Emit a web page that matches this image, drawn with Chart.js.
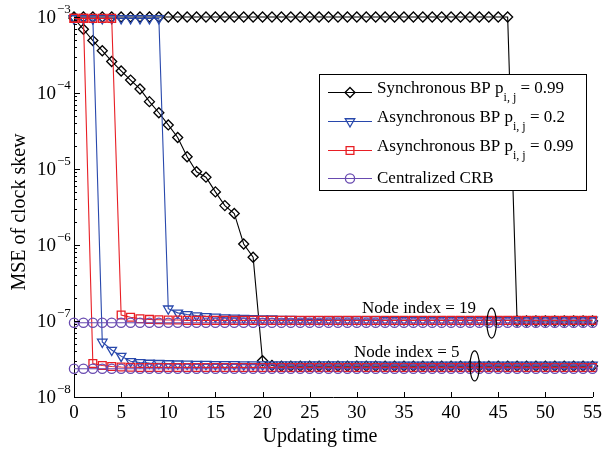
<!DOCTYPE html>
<html>
<head>
<meta charset="utf-8">
<script src="https://cdn.jsdelivr.net/npm/chart.js@4.4.1/dist/chart.umd.min.js"></script>
<style>
    html, body { margin: 0; padding: 0; background: #fff; }
    #chart { display: block; }
</style>
</head>
<body>
<canvas id="chart" width="607" height="449"></canvas>
<script>
const updatingTime = [
    0, 1, 2, 3, 4, 5, 6, 7, 8, 9,
    10, 11, 12, 13, 14, 15, 16, 17, 18, 19,
    20, 21, 22, 23, 24, 25, 26, 27, 28, 29,
    30, 31, 32, 33, 34, 35, 36, 37, 38, 39,
    40, 41, 42, 43, 44, 45, 46, 47, 48, 49,
    50, 51, 52, 53, 54, 55
];

// Synchronous BP p = 0.99
const syncNode19 = [
    1e-3, 1e-3, 1e-3, 1e-3, 1e-3, 1e-3, 1e-3, 1e-3, 1e-3, 1e-3,
    1e-3, 1e-3, 1e-3, 1e-3, 1e-3, 1e-3, 1e-3, 1e-3, 1e-3, 1e-3,
    1e-3, 1e-3, 1e-3, 1e-3, 1e-3, 1e-3, 1e-3, 1e-3, 1e-3, 1e-3,
    1e-3, 1e-3, 1e-3, 1e-3, 1e-3, 1e-3, 1e-3, 1e-3, 1e-3, 1e-3,
    1e-3, 1e-3, 1e-3, 1e-3, 1e-3, 1e-3, 1e-3, 1.0e-7, 1.0e-7, 1.0e-7,
    1.0e-7, 1.0e-7, 1.0e-7, 1.0e-7, 1.0e-7, 1.0e-7
];
const syncNode5 = [
    9.6e-4, 6.9e-4, 4.9e-4, 3.6e-4, 2.6e-4, 1.95e-4, 1.48e-4, 1.13e-4, 7.7e-5, 5.5e-5,
    3.8e-5, 2.6e-5, 1.45e-5, 9.2e-6, 7.8e-6, 5.0e-6, 3.3e-6, 2.6e-6, 1.03e-6, 6.9e-7,
    3.0e-8, 2.6e-8, 2.55e-8, 2.55e-8, 2.55e-8, 2.55e-8, 2.55e-8, 2.55e-8, 2.55e-8, 2.55e-8,
    2.55e-8, 2.55e-8, 2.55e-8, 2.55e-8, 2.55e-8, 2.55e-8, 2.55e-8, 2.55e-8, 2.55e-8, 2.55e-8,
    2.55e-8, 2.55e-8, 2.55e-8, 2.55e-8, 2.55e-8, 2.55e-8, 2.55e-8, 2.55e-8, 2.55e-8, 2.55e-8,
    2.55e-8, 2.55e-8, 2.55e-8, 2.55e-8, 2.55e-8, 2.55e-8
];

// Asynchronous BP p = 0.2
const asyncLowNode19 = [
    9.6e-4, 9.6e-4, 9.6e-4, 9.6e-4, 9.6e-4, 9.6e-4, 9.6e-4, 9.6e-4, 9.6e-4, 9.6e-4,
    1.45e-7, 1.28e-7, 1.22e-7, 1.18e-7, 1.15e-7, 1.13e-7, 1.11e-7, 1.10e-7, 1.09e-7, 1.08e-7,
    1.07e-7, 1.07e-7, 1.06e-7, 1.06e-7, 1.05e-7, 1.05e-7, 1.05e-7, 1.04e-7, 1.04e-7, 1.04e-7,
    1.04e-7, 1.04e-7, 1.04e-7, 1.03e-7, 1.03e-7, 1.03e-7, 1.03e-7, 1.03e-7, 1.03e-7, 1.03e-7,
    1.03e-7, 1.03e-7, 1.03e-7, 1.03e-7, 1.03e-7, 1.03e-7, 1.03e-7, 1.03e-7, 1.03e-7, 1.03e-7,
    1.03e-7, 1.03e-7, 1.03e-7, 1.03e-7, 1.03e-7, 1.03e-7
];
const asyncLowNode5 = [
    9.6e-4, 9.6e-4, 9.6e-4, 5.3e-8, 4.15e-8, 3.45e-8, 2.95e-8, 2.85e-8, 2.8e-8, 2.78e-8,
    2.76e-8, 2.74e-8, 2.72e-8, 2.71e-8, 2.7e-8, 2.69e-8, 2.68e-8, 2.68e-8, 2.67e-8, 2.67e-8,
    2.66e-8, 2.66e-8, 2.66e-8, 2.66e-8, 2.66e-8, 2.66e-8, 2.66e-8, 2.66e-8, 2.66e-8, 2.66e-8,
    2.66e-8, 2.66e-8, 2.66e-8, 2.65e-8, 2.65e-8, 2.65e-8, 2.65e-8, 2.65e-8, 2.65e-8, 2.65e-8,
    2.65e-8, 2.65e-8, 2.65e-8, 2.65e-8, 2.65e-8, 2.65e-8, 2.65e-8, 2.65e-8, 2.65e-8, 2.65e-8,
    2.65e-8, 2.65e-8, 2.65e-8, 2.65e-8, 2.65e-8, 2.65e-8
];

// Asynchronous BP p = 0.99
const asyncHighNode19 = [
    9.6e-4, 9.6e-4, 9.6e-4, 9.6e-4, 9.6e-4, 1.2e-7, 1.12e-7, 1.07e-7, 1.05e-7, 1.04e-7,
    1.03e-7, 1.03e-7, 1.02e-7, 1.02e-7, 1.02e-7, 1.02e-7, 1.02e-7, 1.02e-7, 1.02e-7, 1.02e-7,
    1.02e-7, 1.02e-7, 1.02e-7, 1.02e-7, 1.02e-7, 1.02e-7, 1.02e-7, 1.02e-7, 1.02e-7, 1.02e-7,
    1.02e-7, 1.02e-7, 1.02e-7, 1.02e-7, 1.02e-7, 1.02e-7, 1.02e-7, 1.02e-7, 1.02e-7, 1.02e-7,
    1.02e-7, 1.02e-7, 1.02e-7, 1.02e-7, 1.02e-7, 1.02e-7, 1.02e-7, 1.02e-7, 1.02e-7, 1.02e-7,
    1.02e-7, 1.02e-7, 1.02e-7, 1.02e-7, 1.02e-7, 1.02e-7
];
const asyncHighNode5 = [
    9.6e-4, 9.6e-4, 2.75e-8, 2.6e-8, 2.52e-8, 2.48e-8, 2.46e-8, 2.45e-8, 2.45e-8, 2.45e-8,
    2.45e-8, 2.45e-8, 2.45e-8, 2.45e-8, 2.45e-8, 2.45e-8, 2.45e-8, 2.45e-8, 2.45e-8, 2.45e-8,
    2.45e-8, 2.45e-8, 2.45e-8, 2.45e-8, 2.45e-8, 2.45e-8, 2.45e-8, 2.45e-8, 2.45e-8, 2.45e-8,
    2.45e-8, 2.45e-8, 2.45e-8, 2.45e-8, 2.45e-8, 2.45e-8, 2.45e-8, 2.45e-8, 2.45e-8, 2.45e-8,
    2.45e-8, 2.45e-8, 2.45e-8, 2.45e-8, 2.45e-8, 2.45e-8, 2.45e-8, 2.45e-8, 2.45e-8, 2.45e-8,
    2.45e-8, 2.45e-8, 2.45e-8, 2.45e-8, 2.45e-8, 2.45e-8
];

// Centralized CRB
const crbNode19 = [
    9.5e-8, 9.5e-8, 9.5e-8, 9.5e-8, 9.5e-8, 9.5e-8, 9.5e-8, 9.5e-8, 9.5e-8, 9.5e-8,
    9.5e-8, 9.5e-8, 9.5e-8, 9.5e-8, 9.5e-8, 9.5e-8, 9.5e-8, 9.5e-8, 9.5e-8, 9.5e-8,
    9.5e-8, 9.5e-8, 9.5e-8, 9.5e-8, 9.5e-8, 9.5e-8, 9.5e-8, 9.5e-8, 9.5e-8, 9.5e-8,
    9.5e-8, 9.5e-8, 9.5e-8, 9.5e-8, 9.5e-8, 9.5e-8, 9.5e-8, 9.5e-8, 9.5e-8, 9.5e-8,
    9.5e-8, 9.5e-8, 9.5e-8, 9.5e-8, 9.5e-8, 9.5e-8, 9.5e-8, 9.5e-8, 9.5e-8, 9.5e-8,
    9.5e-8, 9.5e-8, 9.5e-8, 9.5e-8, 9.5e-8, 9.5e-8
];
const crbNode5 = [
    2.35e-8, 2.35e-8, 2.35e-8, 2.35e-8, 2.35e-8, 2.35e-8, 2.35e-8, 2.35e-8, 2.35e-8, 2.35e-8,
    2.35e-8, 2.35e-8, 2.35e-8, 2.35e-8, 2.35e-8, 2.35e-8, 2.35e-8, 2.35e-8, 2.35e-8, 2.35e-8,
    2.35e-8, 2.35e-8, 2.35e-8, 2.35e-8, 2.35e-8, 2.35e-8, 2.35e-8, 2.35e-8, 2.35e-8, 2.35e-8,
    2.35e-8, 2.35e-8, 2.35e-8, 2.35e-8, 2.35e-8, 2.35e-8, 2.35e-8, 2.35e-8, 2.35e-8, 2.35e-8,
    2.35e-8, 2.35e-8, 2.35e-8, 2.35e-8, 2.35e-8, 2.35e-8, 2.35e-8, 2.35e-8, 2.35e-8, 2.35e-8,
    2.35e-8, 2.35e-8, 2.35e-8, 2.35e-8, 2.35e-8, 2.35e-8
];

const xTicks = [0, 5, 10, 15, 20, 25, 30, 35, 40, 45, 50, 55];
const yExponents = [-8, -7, -6, -5, -4, -3];

const xTitle = 'Updating time';
const yTitle = 'MSE of clock skew';

const legendLabels = [
    { main: 'Synchronous BP p', sub: 'i, j', tail: ' = 0.99' },
    { main: 'Asynchronous BP p', sub: 'i, j', tail: ' = 0.2' },
    { main: 'Asynchronous BP p', sub: 'i, j', tail: ' = 0.99' },
    { main: 'Centralized CRB', sub: '', tail: '' }
];

const nodeNotes = [
    { text: 'Node index = 19', tx: 36.6, ty: 1.48e-7, ex: 44.3, ey: 9.4e-8 },
    { text: 'Node index = 5', tx: 35.3, ty: 3.9e-8, ex: 42.5, ey: 2.56e-8 }
];

const serif = "'Liberation Serif', 'Times New Roman', serif";

const styles = [
    { color: '#000000', marker: 'rectRot', radius: 5 },
    { color: 'rgb(40, 72, 172)', marker: 'triangle', radius: 5.5 },
    { color: 'rgb(232, 30, 36)', marker: 'rect', radius: 5.5 },
    { color: 'rgb(104, 74, 176)', marker: 'circle', radius: 4.6 }
];

function makeDataset(values, style, order) {
    return {
        data: updatingTime.map((t, i) => ({ x: t, y: values[i] })),
        borderColor: style.color,
        backgroundColor: 'rgba(0,0,0,0)',
        borderWidth: 1.1,
        pointStyle: style.marker,
        pointRotation: style.marker === 'triangle' ? 180 : 0,
        pointRadius: style.radius,
        pointBorderColor: style.color,
        pointBackgroundColor: 'rgba(0,0,0,0)',
        pointBorderWidth: 1.3,
        tension: 0,
        clip: false,
        order: order
    };
}

function drawMarker(ctx, style, cx, cy) {
    const r = style.radius;
    ctx.beginPath();
    if (style.marker === 'circle') {
        ctx.arc(cx, cy, r, 0, Math.PI * 2);
    } else if (style.marker === 'rectRot') {
        ctx.moveTo(cx, cy - r);
        ctx.lineTo(cx + r, cy);
        ctx.lineTo(cx, cy + r);
        ctx.lineTo(cx - r, cy);
        ctx.closePath();
    } else if (style.marker === 'rect') {
        const s = r * Math.SQRT1_2;
        ctx.rect(cx - s, cy - s, 2 * s, 2 * s);
    } else {
        const h = r * Math.sin(Math.PI / 3);
        ctx.moveTo(cx, cy + r);
        ctx.lineTo(cx + h, cy - r / 2);
        ctx.lineTo(cx - h, cy - r / 2);
        ctx.closePath();
    }
    ctx.stroke();
}

const decorPlugin = {
    id: 'decor',
    afterDatasetsDraw(chart) {
        const ctx = chart.ctx;
        const xs = chart.scales.x;
        const ys = chart.scales.y;
        const area = chart.chartArea;
        ctx.save();

        // inward ticks
        ctx.strokeStyle = '#000';
        ctx.lineWidth = 1;
        ctx.beginPath();
        xTicks.forEach(v => {
            const px = Math.round(xs.getPixelForValue(v)) + 0.5;
            ctx.moveTo(px, area.bottom);
            ctx.lineTo(px, area.bottom - 5);
        });
        yExponents.forEach((e, i) => {
            const base = Math.pow(10, e);
            const py = Math.round(ys.getPixelForValue(base)) + 0.5;
            ctx.moveTo(area.left, py);
            ctx.lineTo(area.left + 6, py);
            if (i < yExponents.length - 1) {
                for (let m = 2; m <= 9; m++) {
                    const pm = Math.round(ys.getPixelForValue(m * base)) + 0.5;
                    ctx.moveTo(area.left, pm);
                    ctx.lineTo(area.left + 3, pm);
                }
            }
        });
        ctx.stroke();

        // y tick labels 10^k
        ctx.fillStyle = '#000';
        yExponents.forEach(e => {
            const py = ys.getPixelForValue(Math.pow(10, e));
            ctx.font = '19px ' + serif;
            ctx.textAlign = 'right';
            ctx.textBaseline = 'middle';
            ctx.fillText('10', 56, py + 1);
            ctx.font = '13px ' + serif;
            ctx.textAlign = 'left';
            ctx.fillText('\u2212' + Math.abs(e), 57, py - 7);
        });

        // axis titles
        ctx.font = '20px ' + serif;
        ctx.textAlign = 'center';
        ctx.textBaseline = 'middle';
        ctx.fillText(xTitle, 320, 437);
        ctx.save();
        ctx.translate(20, 212);
        ctx.rotate(-Math.PI / 2);
        ctx.fillText(yTitle, 0, 0);
        ctx.restore();

        // legend box
        const box = { left: 319.5, top: 74.5, right: 586.5, bottom: 190.5 };
        ctx.fillStyle = '#fff';
        ctx.fillRect(box.left, box.top, box.right - box.left, box.bottom - box.top);
        ctx.strokeStyle = '#000';
        ctx.lineWidth = 1;
        ctx.strokeRect(box.left, box.top, box.right - box.left, box.bottom - box.top);
        const rowY = [92.5, 121.5, 150.5, 178.5];
        legendLabels.forEach((item, i) => {
            const st = styles[i];
            const y = rowY[i];
            ctx.strokeStyle = st.color;
            ctx.lineWidth = 1.1;
            ctx.beginPath();
            ctx.moveTo(328, y);
            ctx.lineTo(372, y);
            ctx.stroke();
            ctx.lineWidth = 1.3;
            drawMarker(ctx, st, 350, y);

            ctx.fillStyle = '#000';
            ctx.textAlign = 'left';
            ctx.textBaseline = 'middle';
            const ty = item.sub ? y - 4 : y;
            ctx.font = '17px ' + serif;
            let tx = 377;
            ctx.fillText(item.main, tx, ty);
            tx += ctx.measureText(item.main).width;
            if (item.sub) {
                ctx.font = '12px ' + serif;
                ctx.fillText(item.sub, tx, ty + 9);
                tx += ctx.measureText(item.sub).width;
                ctx.font = '17px ' + serif;
                ctx.fillText(item.tail, tx, ty);
            }
        });

        // node annotations
        ctx.fillStyle = '#000';
        ctx.strokeStyle = '#000';
        ctx.lineWidth = 1.2;
        ctx.font = '17px ' + serif;
        ctx.textAlign = 'center';
        ctx.textBaseline = 'middle';
        nodeNotes.forEach(n => {
            ctx.fillText(n.text, xs.getPixelForValue(n.tx), ys.getPixelForValue(n.ty));
            ctx.beginPath();
            ctx.ellipse(xs.getPixelForValue(n.ex), ys.getPixelForValue(n.ey), 4.7, 15, 0, 0, Math.PI * 2);
            ctx.stroke();
        });

        ctx.restore();
    }
};

new Chart(document.getElementById('chart').getContext('2d'), {
    type: 'line',
    data: {
        datasets: [
            makeDataset(syncNode19, styles[0], 3),
            makeDataset(syncNode5, styles[0], 3),
            makeDataset(asyncLowNode19, styles[1], 2),
            makeDataset(asyncLowNode5, styles[1], 2),
            makeDataset(asyncHighNode19, styles[2], 1),
            makeDataset(asyncHighNode5, styles[2], 1),
            makeDataset(crbNode19, styles[3], 0),
            makeDataset(crbNode5, styles[3], 0)
        ]
    },
    options: {
        responsive: false,
        animation: false,
        layout: { padding: { top: 17, right: 12, left: 0, bottom: 0 } },
        plugins: {
            legend: { display: false },
            tooltip: { enabled: false }
        },
        scales: {
            x: {
                type: 'linear',
                min: 0,
                max: 55,
                afterBuildTicks: scale => { scale.ticks = xTicks.map(v => ({ value: v })); },
                ticks: {
                    font: { family: serif, size: 19 },
                    color: '#000',
                    padding: 5,
                    maxRotation: 0,
                    autoSkip: false
                },
                grid: { display: false, drawTicks: false },
                border: { display: true, color: '#000', width: 1 },
                afterFit: scale => { scale.height = 52; }
            },
            y: {
                type: 'logarithmic',
                min: 1e-8,
                max: 1e-3,
                ticks: { display: false },
                grid: { display: false, drawTicks: false },
                border: { display: true, color: '#000', width: 1 },
                afterFit: scale => { scale.width = 74; }
            }
        }
    },
    plugins: [decorPlugin]
});
</script>
</body>
</html>
